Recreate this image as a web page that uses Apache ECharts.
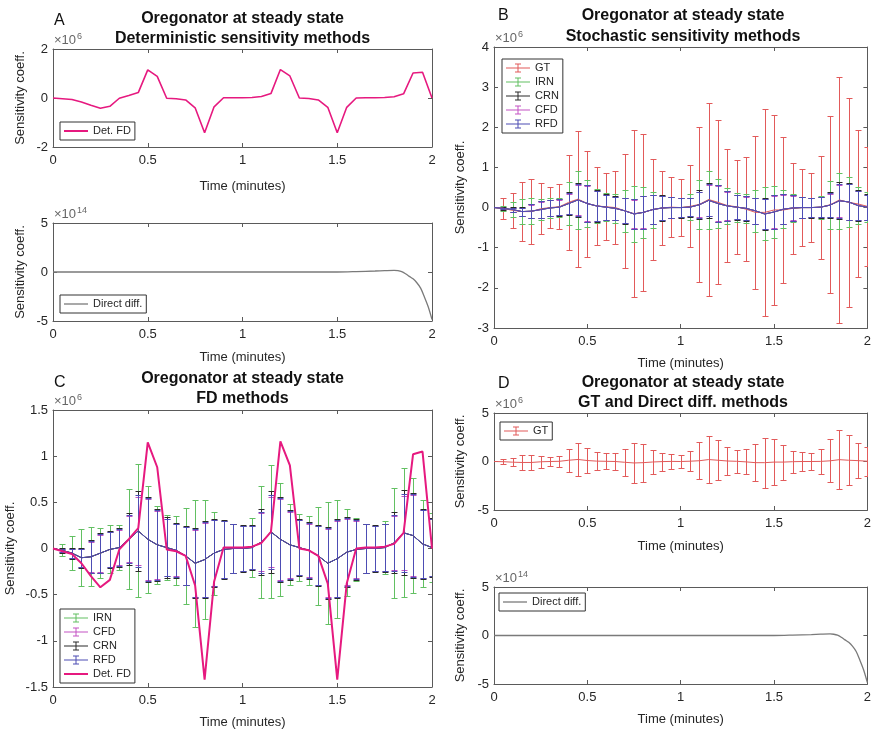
<!DOCTYPE html>
<html>
<head>
<meta charset="utf-8">
<script src="https://cdn.jsdelivr.net/npm/echarts@6/dist/echarts.min.js"></script>
<style>
html,body{margin:0;padding:0;background:#fff;}
#main{width:874px;height:730px;}
</style>
</head>
<body>
<div id="main"></div>
<script>
// time points (minutes)
var times = [0,0.05,0.1,0.15,0.2,0.25,0.3,0.35,0.4,0.45,0.5,0.55,0.6,0.65,0.7,0.75,0.8,0.85,0.9,0.95,
             1,1.05,1.1,1.15,1.2,1.25,1.3,1.35,1.4,1.45,1.5,1.55,1.6,1.65,1.7,1.75,1.8,1.85,1.9,1.95,2];
// deterministic finite difference (x1e6)
var detFD = [0,-0.03,-0.06,-0.16,-0.3,-0.42,-0.34,-0.01,0.1,0.22,1.15,0.88,-0.01,-0.03,-0.08,-0.4,-1.42,-0.36,0.01,0.01,
             0.01,0.02,0.06,0.18,1.16,0.9,0,-0.02,-0.08,-0.38,-1.42,-0.38,0,0.01,0.01,0.02,0.05,0.17,1.02,1.05,0];
// stochastic estimators: mean (x1e6)
var stochMean = [0,-0.02,-0.05,-0.1,-0.09,-0.05,-0.01,0.01,0.1,0.19,0.1,0.04,0.01,-0.02,-0.08,-0.16,-0.12,-0.05,-0.01,0,
                 0,0.01,0.07,0.18,0.1,0.04,0.01,-0.02,-0.08,-0.16,-0.11,-0.04,-0.01,0,0,0.01,0.06,0.17,0.14,0.05,0.01];
var gtMean = [0,-0.02,-0.07,-0.1,-0.1,-0.03,0,0.02,0.13,0.21,0.1,0.04,0.02,0,-0.08,-0.15,-0.12,-0.05,-0.01,0.01,
              0,0.03,0.08,0.2,0.13,0.05,0.02,-0.04,-0.12,-0.12,-0.06,-0.06,-0.02,0,0,0.01,0.07,0.19,0.13,0.09,0.03];
// half widths of the error bars (x1e6)
var gtErr = [0,0.26,0.44,0.73,0.8,0.64,0.5,0.56,1.19,1.69,1.32,0.96,0.83,0.9,1.42,2.08,1.95,1.26,0.92,0.75,
             0.71,1.02,1.93,2.4,2.04,1.4,1.17,1.29,1.9,2.58,2.37,1.81,1.13,0.96,0.86,1.28,2.2,3.06,2.6,1.83,1.48];
var irnErr = [0,0.065,0.18,0.31,0.32,0.27,0.26,0.24,0.54,0.72,0.58,0.42,0.35,0.37,0.52,0.69,0.64,0.45,0.31,0.26,
              0.24,0.32,0.61,0.72,0.61,0.44,0.36,0.37,0.53,0.66,0.64,0.47,0.34,0.27,0.24,0.29,0.6,0.7,0.62,0.47,0.37];
var crnErr = [0,0.03,0.06,0.11,0.18,0.22,0.2,0.21,0.28,0.43,0.46,0.39,0.33,0.3,0.32,0.38,0.42,0.37,0.32,0.27,
              0.25,0.24,0.36,0.44,0.46,0.38,0.31,0.31,0.33,0.39,0.43,0.38,0.33,0.27,0.25,0.26,0.33,0.46,0.46,0.38,0.32];
var cfdErr = [0,0.02,0.05,0.1,0.16,0.2,0.19,0.19,0.25,0.37,0.44,0.37,0.31,0.28,0.31,0.36,0.4,0.36,0.31,0.26,
              0.24,0.23,0.31,0.38,0.44,0.36,0.3,0.29,0.32,0.37,0.41,0.36,0.31,0.26,0.24,0.25,0.29,0.4,0.44,0.37,0.31];
var rfdErr = [0,0.02,0.05,0.1,0.17,0.21,0.19,0.2,0.26,0.39,0.45,0.38,0.31,0.29,0.31,0.37,0.41,0.36,0.31,0.26,
              0.24,0.23,0.33,0.4,0.45,0.37,0.3,0.3,0.32,0.38,0.42,0.37,0.32,0.26,0.24,0.25,0.3,0.42,0.45,0.37,0.31];
// direct differentiation (x1e14)
var directT = [0,0.5,1,1.5,1.6,1.7,1.75,1.8,1.82,1.84,1.86,1.88,1.9,1.92,1.94,1.96,1.98,2];
var directV = [0,0,0,0,0.04,0.1,0.14,0.17,0.13,0.03,-0.18,-0.45,-0.7,-1.1,-1.65,-2.55,-3.55,-4.85];

var C = {
    GT:'#e25a5a', IRN:'#62c062', CRN:'#2a2a2a', CFD:'#c452c4', RFD:'#4d4db4',
    det:'#e6197f', direct:'#7a7a7a', axis:'#5a5a5a', text:'#262626'
};
var FONT = '"Liberation Sans", Arial, Helvetica, sans-serif';
// legend icons: error bar, thick line, thin line
var ebIcon = 'path://M0,4.5h24v1h-24z M11.5,1h1v8h-1z M9,0.5h6v1h-6z M9,8.5h6v1h-6z';
var thickIcon = 'path://M0,4h24v2h-24z';
var thinIcon = 'path://M0,4.4h24v1.3h-24z';

// grid boxes: [left, top, width, height]
var boxes = [
    [53, 49, 379, 98],   // A top
    [53, 223, 379, 98],  // A bottom
    [494, 47, 378, 281], // B
    [53, 410, 379, 281], // C
    [494, 413, 378, 97], // D top
    [494, 587, 378, 97]  // D bottom
];
// y axis: min, max, interval, name gap
var yCfg = [
    [-2, 2, 2, 26],
    [-5, 5, 5, 26],
    [-3, 4, 1, 27],
    [-1.5, 1.5, 0.5, 36],
    [-5, 5, 5, 27],
    [-5, 5, 5, 27]
];
var xNameGap = [33, 30, 29, 29, 30, 29];

var grids = [], xAxes = [], yAxes = [];
var lineSt = {color: C.axis, width: 1};
for (var g = 0; g < boxes.length; g++) {
    var b = boxes[g], y = yCfg[g];
    grids.push({left: b[0], top: b[1], width: b[2], height: b[3], show: false});
    xAxes.push({
        gridIndex: g, type: 'value', min: 0, max: 2, interval: 0.5, position: 'bottom',
        name: 'Time (minutes)', nameLocation: 'middle', nameGap: xNameGap[g],
        nameTextStyle: {fontSize: 13, color: C.text, fontFamily: FONT},
        axisLine: {show: true, onZero: false, lineStyle: lineSt},
        axisTick: {show: true, inside: true, length: 4, lineStyle: lineSt},
        axisLabel: {fontSize: 13, color: C.text, margin: 7, fontFamily: FONT},
        splitLine: {show: false}
    });
    xAxes.push({
        gridIndex: g, type: 'value', min: 0, max: 2, interval: 0.5, position: 'top',
        axisLine: {show: true, onZero: false, lineStyle: lineSt},
        axisTick: {show: true, inside: true, length: 4, lineStyle: lineSt},
        axisLabel: {show: false}, splitLine: {show: false}
    });
    yAxes.push({
        gridIndex: g, type: 'value', min: y[0], max: y[1], interval: y[2], position: 'left',
        name: 'Sensitivity coeff.', nameLocation: 'middle', nameGap: y[3],
        nameTextStyle: {fontSize: 13, color: C.text, fontFamily: FONT},
        axisLine: {show: true, onZero: false, lineStyle: lineSt},
        axisTick: {show: true, inside: true, length: 4, lineStyle: lineSt},
        axisLabel: {fontSize: 13, color: C.text, margin: 5, fontFamily: FONT},
        splitLine: {show: false}
    });
    yAxes.push({
        gridIndex: g, type: 'value', min: y[0], max: y[1], interval: y[2], position: 'right',
        axisLine: {show: true, onZero: false, lineStyle: lineSt},
        axisTick: {show: true, inside: true, length: 4, lineStyle: lineSt},
        axisLabel: {show: false}, splitLine: {show: false}
    });
}

function pairs(xs, ys) {
    var out = [];
    for (var i = 0; i < xs.length; i++) out.push([xs[i], ys[i]]);
    return out;
}
function ebData(mean, err) {
    var out = [];
    for (var i = 0; i < times.length; i++) {
        if (err[i] > 0) out.push([times[i], mean[i], err[i]]);
    }
    return out;
}
function ebRender(color) {
    return function (params, api) {
        var x = api.value(0), m = api.value(1), e = api.value(2);
        var hi = api.coord([x, m + e]), lo = api.coord([x, m - e]);
        var cx = Math.round(hi[0]) + 0.5;
        var yh = Math.round(hi[1]) + 0.5, yl = Math.round(lo[1]) + 0.5;
        var st = {stroke: color, lineWidth: 1, fill: null};
        return {
            type: 'group',
            children: [
                {type: 'line', shape: {x1: cx, y1: yh, x2: cx, y2: yl}, style: st},
                {type: 'line', shape: {x1: cx - 3, y1: yh, x2: cx + 3, y2: yh}, style: st},
                {type: 'line', shape: {x1: cx - 3, y1: yl, x2: cx + 3, y2: yl}, style: st}
            ]
        };
    };
}
function ebSeries(name, g, mean, err, color) {
    return [{
        type: 'custom', name: name, xAxisIndex: 2 * g, yAxisIndex: 2 * g,
        data: ebData(mean, err), encode: {x: 0, y: 1},
        renderItem: ebRender(color), itemStyle: {color: color}, clip: true
    }, {
        type: 'line', name: name, xAxisIndex: 2 * g, yAxisIndex: 2 * g,
        data: pairs(times, mean), showSymbol: false, symbol: 'none',
        lineStyle: {color: color, width: 1}, itemStyle: {color: color}
    }];
}
function plainLine(name, g, xs, ys, color, w, smooth) {
    return {
        type: 'line', name: name, xAxisIndex: 2 * g, yAxisIndex: 2 * g,
        data: pairs(xs, ys), showSymbol: false, symbol: 'none', smooth: smooth || false,
        lineStyle: {color: color, width: w}, itemStyle: {color: color}
    };
}

var series = [];
// A
series.push(plainLine('Det. FD', 0, times, detFD, C.det, 1.6));
series.push(plainLine('Direct diff.', 1, directT, directV, C.direct, 1.3, 0.3));
// B
series = series.concat(ebSeries('GT', 2, gtMean, gtErr, C.GT));
series = series.concat(ebSeries('IRN', 2, stochMean, irnErr, C.IRN));
series = series.concat(ebSeries('CRN', 2, stochMean, crnErr, C.CRN));
series = series.concat(ebSeries('CFD', 2, stochMean, cfdErr, C.CFD));
series = series.concat(ebSeries('RFD', 2, stochMean, rfdErr, C.RFD));
// C
series = series.concat(ebSeries('IRN', 3, stochMean, irnErr, C.IRN));
series = series.concat(ebSeries('CFD', 3, stochMean, cfdErr, C.CFD));
series = series.concat(ebSeries('CRN', 3, stochMean, crnErr, C.CRN));
series = series.concat(ebSeries('RFD', 3, stochMean, rfdErr, C.RFD));
series.push(plainLine('Det. FD', 3, times, detFD, C.det, 2));
// D
series = series.concat(ebSeries('GT', 4, gtMean, gtErr, C.GT));
series.push(plainLine('Direct diff.', 5, directT, directV, C.direct, 1.3, 0.3));

function legendBox(left, top, items) {
    return {
        orient: 'vertical', left: left, top: top, selectedMode: false,
        backgroundColor: '#fff', borderColor: '#333', borderWidth: 1, borderRadius: 0,
        padding: [2, 4, 2, 4], itemGap: 0, itemWidth: 24, itemHeight: 10,
        textStyle: {fontSize: 11, color: C.text, fontFamily: FONT, lineHeight: 14},
        data: items
    };
}
function items(names, icon) {
    return names.map(function (n) { return {name: n, icon: icon}; });
}
var legends = [
    legendBox(60, 122, items(['Det. FD'], thickIcon)),
    legendBox(60, 295, items(['Direct diff.'], thinIcon)),
    legendBox(502, 59, items(['GT', 'IRN', 'CRN', 'CFD', 'RFD'], ebIcon)),
    legendBox(60, 609, items(['IRN', 'CFD', 'CRN', 'RFD'], ebIcon).concat(items(['Det. FD'], thickIcon))),
    legendBox(500, 422, items(['GT'], ebIcon)),
    legendBox(499, 593, items(['Direct diff.'], thinIcon))
];

// titles, panel letters, exponent labels
var graphics = [];
function centerX(g) { return boxes[g][0] + boxes[g][2] / 2; }
function title(g, top, lh, txt) {
    graphics.push({type: 'text', x: centerX(g), y: top, style: {
        text: txt, align: 'center', verticalAlign: 'top',
        fontSize: 16, fontWeight: 'bold', lineHeight: lh, fill: '#111', fontFamily: FONT}});
}
function letter(x, y, s) {
    graphics.push({type: 'text', x: x, y: y, style: {
        text: s, fontSize: 16, fill: '#111', fontFamily: FONT, verticalAlign: 'middle'}});
}
function expo(g, p) {
    var b = boxes[g];
    graphics.push({type: 'text', x: b[0] + 1, y: b[1] - 2, style: {
        text: '\u00d710', fontSize: 13, fill: '#666', fontFamily: FONT, verticalAlign: 'bottom'}});
    graphics.push({type: 'text', x: b[0] + 24, y: b[1] - 8, style: {
        text: p, fontSize: 9, fill: '#666', fontFamily: FONT, verticalAlign: 'bottom'}});
}

title(0, 9, 20, 'Oregonator at steady state\nDeterministic sensitivity methods');
title(2, 5, 21, 'Oregonator at steady state\nStochastic sensitivity methods');
title(3, 369, 20, 'Oregonator at steady state\nFD methods');
title(4, 373, 20, 'Oregonator at steady state\nGT and Direct diff. methods');

letter(54, 21, 'A');
letter(498, 16, 'B');
letter(54, 383, 'C');
letter(498, 384, 'D');

expo(0, '6');
expo(1, '14');
expo(2, '6');
expo(3, '6');
expo(4, '6');
expo(5, '14');

var chart = echarts.init(document.getElementById('main'), null, {renderer: 'canvas'});
chart.setOption({
    animation: false,
    backgroundColor: '#fff',
    textStyle: {fontFamily: FONT},
    grid: grids,
    xAxis: xAxes,
    yAxis: yAxes,
    legend: legends,
    series: series,
    graphic: graphics
});
</script>
</body>
</html>
